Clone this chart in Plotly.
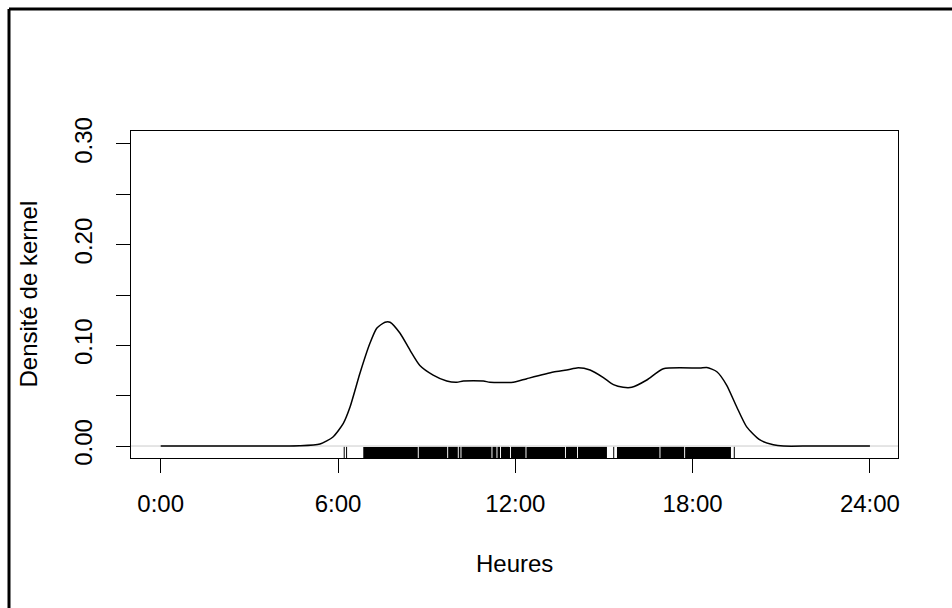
import plotly.graph_objects as go

# Kernel density of event times (hours of the day)
hours = [0, 4.0, 4.7, 5.39, 5.83, 6.18, 6.41, 6.74, 7.08, 7.31, 7.59, 7.76,
         8.10, 8.44, 8.77, 9.22, 9.68, 10.02, 10.24, 10.92, 11.14, 11.93,
         12.39, 13.29, 13.74, 14.13, 14.53, 14.98, 15.32, 15.65, 15.94, 16.45,
         17.01, 18.25, 18.48, 18.82, 19.15, 19.49, 19.83, 20.28, 20.73, 21.07,
         22.0, 24.0]
density = [0, 0, 0.0002, 0.002, 0.009, 0.0225, 0.039, 0.072, 0.102, 0.117,
           0.123, 0.123, 0.112, 0.095, 0.080, 0.0705, 0.0646, 0.0633, 0.0646,
           0.0646, 0.0633, 0.0633, 0.0669, 0.0735, 0.0755, 0.0778, 0.0755,
           0.068, 0.061, 0.0583, 0.0583, 0.0656, 0.0768, 0.0775, 0.078, 0.0738,
           0.0606, 0.039, 0.019, 0.006, 0.0013, 0, 0, 0]

# Rug: runs of observations dense enough to merge, plus isolated observations
rug_blocks = [(6.855, 8.700), (8.732, 9.695), (9.727, 10.054), (10.086, 10.145),
              (10.177, 11.194), (11.226, 11.363), (11.395, 11.482),
              (11.514, 11.820), (11.852, 12.345), (12.377, 13.681),
              (13.713, 14.087), (14.119, 15.101), (15.440, 16.879),
              (16.911, 17.714), (17.746, 19.297)]
rug_ticks = [6.21, 6.29, 15.33, 19.41]

x_tickvals = [0, 6, 12, 18, 24]
x_ticktext = ["0:00", "6:00", "12:00", "18:00", "24:00"]
y_tickvals = [0, 0.05, 0.10, 0.15, 0.20, 0.25, 0.30]
y_ticktext = ["0.00", "", "0.10", "", "0.20", "", "0.30"]

W, H = 952, 608
ML, MR, MT, MB = 131, 54, 131, 150
PW, PH = W - ML - MR, H - MT - MB
FONT = "Liberation Sans, Arial, sans-serif"


def px_x(px):
    return (px - ML) / PW


def px_y(py):
    return (H - MB - py) / PH


fig = go.Figure()
fig.add_trace(go.Scatter(
    x=hours, y=density, mode="lines",
    line=dict(color="black", width=1.5, shape="spline", smoothing=0.6),
    hoverinfo="skip", showlegend=False,
))

shapes = []
# zero line
shapes.append(dict(type="line", xref="x domain", yref="y", x0=0, x1=1, y0=0, y1=0,
                   line=dict(color="#cccccc", width=1), layer="below"))
# rug
for a, b in rug_blocks:
    shapes.append(dict(type="rect", xref="x", yref="paper", x0=a, x1=b,
                       y0=0, y1=0.034, fillcolor="black", line=dict(width=0)))
for t in rug_ticks:
    shapes.append(dict(type="line", xref="x", yref="paper", x0=t, x1=t,
                       y0=0, y1=0.034, line=dict(color="black", width=1)))
# outer frame (top and left edges)
shapes.append(dict(type="line", xref="paper", yref="paper",
                   x0=px_x(9), x1=px_x(W + 2), y0=px_y(9), y1=px_y(9),
                   line=dict(color="black", width=3)))
shapes.append(dict(type="line", xref="paper", yref="paper",
                   x0=px_x(9), x1=px_x(9), y0=px_y(9), y1=px_y(H + 2),
                   line=dict(color="black", width=3)))

annotations = [
    dict(text="Heures", xref="paper", yref="paper", x=0.5, y=px_y(563),
         xanchor="center", yanchor="middle", showarrow=False,
         font=dict(family=FONT, size=24, color="black")),
    dict(text="Densité de kernel", xref="paper", yref="paper", x=px_x(28), y=0.5,
         xanchor="center", yanchor="middle", showarrow=False, textangle=-90,
         font=dict(family=FONT, size=24, color="black")),
]

axis_common = dict(showline=True, mirror=True, linecolor="black", linewidth=1,
                   ticks="outside", ticklen=14, tickwidth=1, tickcolor="black",
                   showgrid=False, zeroline=False,
                   tickfont=dict(family=FONT, size=24, color="black"))

fig.update_layout(
    width=W, height=H,
    margin=dict(l=ML, r=MR, t=MT, b=MB),
    paper_bgcolor="white", plot_bgcolor="white",
    xaxis=dict(range=[-1.005, 24.95], tickvals=x_tickvals, ticktext=x_ticktext,
               ticklabelstandoff=10, **axis_common),
    yaxis=dict(range=[-0.0119, 0.3129], tickvals=y_tickvals, ticktext=y_ticktext,
               tickangle=-90, ticklabelstandoff=14, **axis_common),
    shapes=shapes, annotations=annotations,
    showlegend=False,
)

fig.write_html("out.html", config={"displayModeBar": False})
